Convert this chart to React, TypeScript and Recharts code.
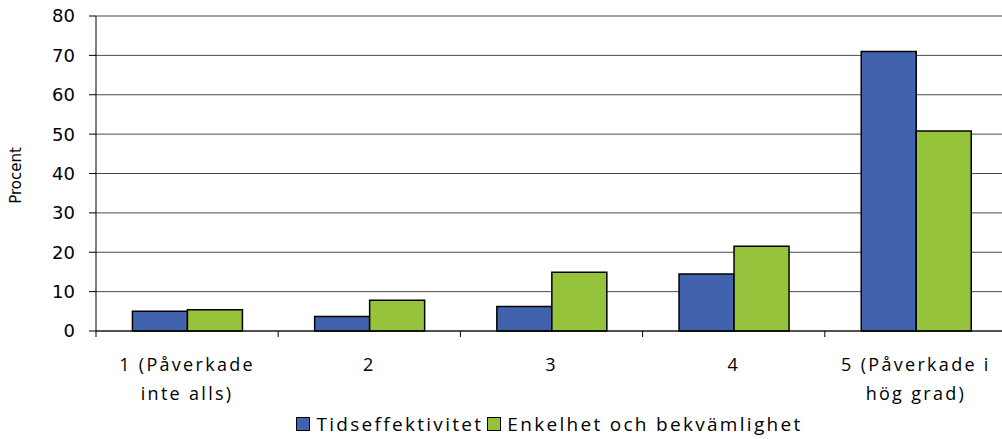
import { BarChart, Bar, XAxis, YAxis, CartesianGrid, Legend } from 'recharts'

const categories = [
  ['1 (Påverkade', 'inte alls)'],
  ['2'],
  ['3'],
  ['4'],
  ['5 (Påverkade i', 'hög grad)'],
]
const tidseffektivitet = [5, 3.7, 6.2, 14.5, 71]
const enkelhet = [5.4, 7.8, 14.9, 21.5, 50.8]
const yTicks = [0, 10, 20, 30, 40, 50, 60, 70, 80]

const SERIES = [
  { key: 'tid', name: 'Tidseffektivitet', color: '#4163ae' },
  { key: 'enk', name: 'Enkelhet och bekvämlighet', color: '#95c43c' },
]

const data = categories.map((lines, i) => ({
  name: lines.join(' '),
  lines,
  tid: tidseffektivitet[i],
  enk: enkelhet[i],
}))

const W = 1002
const H = 439
const PLOT_LEFT = 96
const RIGHT = -5
const HALF_BAND = (W - RIGHT - PLOT_LEFT) / categories.length / 2
const xFont = "'Open Sans', sans-serif"

function CategoryTick({ x, y, index }: any) {
  const lines = categories[index] ?? []
  return (
    <g>
      <line x1={x - HALF_BAND} x2={x - HALF_BAND} y1={y - 8} y2={y - 2} stroke="#000" />
      {index === categories.length - 1 && (
        <line x1={x + HALF_BAND} x2={x + HALF_BAND} y1={y - 8} y2={y - 2} stroke="#000" />
      )}
      {lines.map((l, i) => (
        <text
          key={i}
          x={x}
          y={y + 32 + i * 29}
          textAnchor="middle"
          fontSize={18}
          fontFamily={xFont}
          letterSpacing={2.3}
          fill="#000"
        >
          {l}
        </text>
      ))}
    </g>
  )
}

function LegendContent() {
  return (
    <div style={{ display: 'flex', justifyContent: 'center', fontFamily: xFont, fontSize: 19, lineHeight: '20px', letterSpacing: 2.3, color: '#000', paddingTop: 3, paddingLeft: 96 }}>
      {SERIES.map((s) => (
        <span key={s.key} style={{ display: 'flex', alignItems: 'center', marginRight: 4 }}>
          <span style={{ width: 12, height: 12, background: s.color, border: '1.5px solid #000', marginRight: 6 }} />
          {s.name}
        </span>
      ))}
    </div>
  )
}

export default function App() {
  return (
    <div style={{ position: 'absolute', left: 0, top: 0, width: W, height: H, background: '#fff', overflow: 'hidden' }}>
      <BarChart
        width={W}
        height={H}
        data={data}
        margin={{ top: 16, right: RIGHT, bottom: 0, left: 0 }}
        barCategoryGap="20%"
        barGap={0}
      >
        <CartesianGrid vertical={false} stroke="#4a4a4a" />
        <XAxis
          dataKey="name"
          tick={<CategoryTick />}
          tickLine={false}
          axisLine={{ stroke: '#000' }}
          height={80}
          interval={0}
        />
        <YAxis
          domain={[0, 80]}
          ticks={yTicks}
          width={PLOT_LEFT}
          tickSize={7}
          tickMargin={14}
          tickLine={{ stroke: '#000' }}
          axisLine={{ stroke: '#000' }}
          tick={{ fill: '#000', fontSize: 18, fontFamily: "'DejaVu Sans', sans-serif" }}
          label={({ viewBox }: any) => (
            <text
              x={0}
              y={0}
              transform={`translate(${viewBox.x + 21}, ${viewBox.y + viewBox.height / 2 + 2}) rotate(-90)`}
              textAnchor="middle"
              fontSize={15}
              fontFamily="'DejaVu Sans', sans-serif"
              fill="#000"
            >
              Procent
            </text>
          )}
        />
        <Legend verticalAlign="bottom" height={28} content={<LegendContent />} />
        {SERIES.map((s) => (
          <Bar key={s.key} dataKey={s.key} name={s.name} fill={s.color} stroke="#000" strokeWidth={1.5} isAnimationActive={false} />
        ))}
      </BarChart>
    </div>
  )
}
